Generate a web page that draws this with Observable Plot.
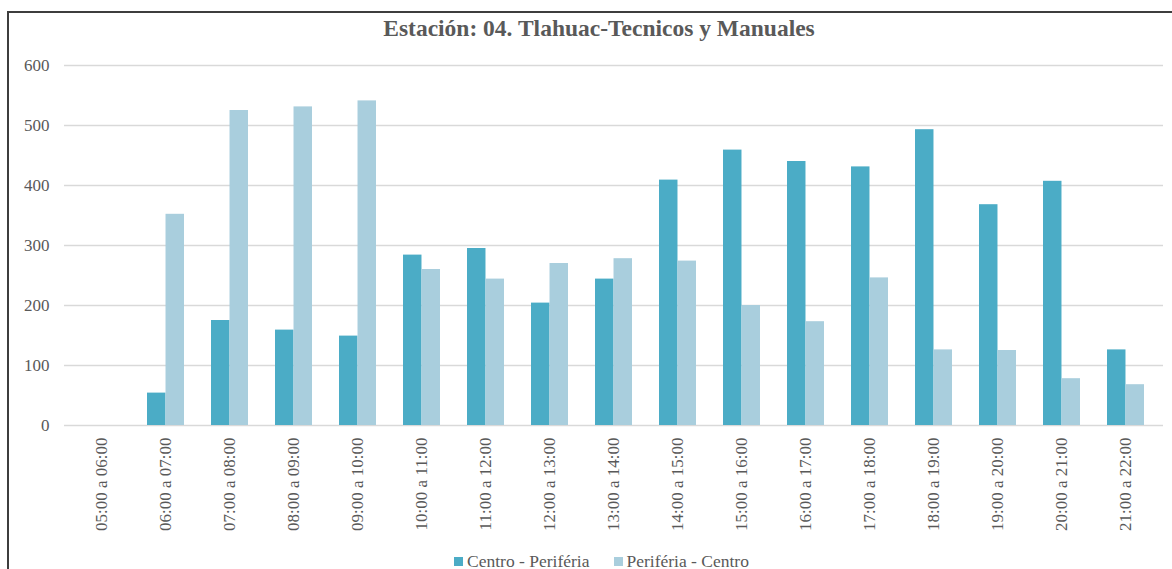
<!DOCTYPE html>
<html>
<head>
<meta charset="utf-8">
<script src="https://cdn.jsdelivr.net/npm/d3@7"></script>
<script src="https://cdn.jsdelivr.net/npm/@observablehq/plot@0.6"></script>
<style>
  html, body { margin: 0; padding: 0; background: #fff; width: 1172px; height: 569px; overflow: hidden; }
  #frame { position: absolute; left: 7px; top: 11px; width: 1200px; height: 600px; border-top: 2px solid #3d3d3d; border-left: 2px solid #3d3d3d; }
  #title { position: absolute; left: 9px; width: 1180px; top: 15px; text-align: center; font-family: "Liberation Serif", "Tinos", "Times New Roman", "DejaVu Serif", serif; font-weight: bold; font-size: 23.5px; line-height: 26px; color: #595959; }
  #chart { position: absolute; left: 0; top: 45px; }
  #legend { position: absolute; top: 554px; left: 0; width: 1203px; display: flex; justify-content: center; gap: 24px; font-family: "Liberation Serif", "Tinos", "Times New Roman", "DejaVu Serif", serif; font-size: 17.5px; color: #595959; line-height: 15px; }
  .item { display: flex; align-items: center; gap: 4px; }
  .sw { width: 9px; height: 9px; display: inline-block; }
</style>
</head>
<body>
<div id="frame"></div>
<div id="title">Estación: 04. Tlahuac-Tecnicos y Manuales</div>
<div id="chart"></div>
<div id="legend"></div>
<script>
const horas = ["05:00 a 06:00","06:00 a 07:00","07:00 a 08:00","08:00 a 09:00","09:00 a 10:00","10:00 a 11:00","11:00 a 12:00","12:00 a 13:00","13:00 a 14:00","14:00 a 15:00","15:00 a 16:00","16:00 a 17:00","17:00 a 18:00","18:00 a 19:00","19:00 a 20:00","20:00 a 21:00","21:00 a 22:00"];
const centroPeriferia = [0, 54, 175, 159, 149, 284, 295, 204, 244, 409, 459, 440, 431, 493, 368, 407, 126];
const periferiaCentro = [0, 352, 525, 531, 541, 260, 244, 270, 278, 274, 200, 173, 246, 126, 125, 78, 68];
const series = ["Centro - Periféria", "Periféria - Centro"];
const colors = ["#4bacc6", "#a9cedd"];
const yTicks = [0, 100, 200, 300, 400, 500, 600];

const dataA = horas.map((h, i) => ({hora: h, serie: series[0], valor: centroPeriferia[i]}));
const dataB = horas.map((h, i) => ({hora: h, serie: series[1], valor: periferiaCentro[i]}));

const half = (1099 / 17) * (1 - 0.427) / 2;
const serifStack = "'Liberation Serif', 'Tinos', 'Times New Roman', 'DejaVu Serif', serif";

const chart = Plot.plot({
  width: 1172,
  height: 500,
  marginTop: 20,
  marginBottom: 120,
  marginLeft: 64,
  marginRight: 9,
  style: {fontFamily: serifStack, fontSize: "17px", color: "#595959", background: "transparent"},
  x: {domain: horas, paddingInner: 0.427, paddingOuter: 0.2135, label: null},
  y: {domain: [0, 600], label: null},
  marks: [
    Plot.gridY(yTicks, {stroke: "#d9d9d9", strokeOpacity: 1, strokeWidth: 1.6}),
    Plot.barY(dataA, {x: "hora", y: "valor", fill: colors[0], insetRight: half}),
    Plot.barY(dataB, {x: "hora", y: "valor", fill: colors[1], insetLeft: half}),
    Plot.axisX({tickRotate: -90, tickSize: 0, tickPadding: 12, label: null, fontFamily: serifStack, fontSize: 17}),
    Plot.axisY(yTicks, {tickSize: 0, tickPadding: 15, label: null, fontFamily: serifStack, fontSize: 17})
  ]
});
document.getElementById("chart").appendChild(chart);

const legend = document.getElementById("legend");
series.forEach((s, i) => {
  const it = document.createElement("div");
  it.className = "item";
  const sw = document.createElement("span");
  sw.className = "sw";
  sw.style.background = colors[i];
  const t = document.createElement("span");
  t.textContent = s;
  it.appendChild(sw);
  it.appendChild(t);
  legend.appendChild(it);
});
</script>
</body>
</html>
